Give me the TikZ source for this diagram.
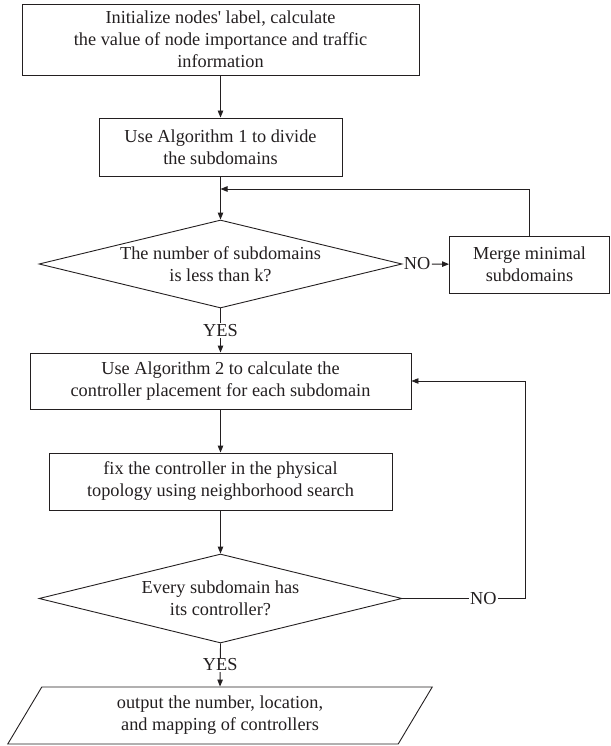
\documentclass[tikz,border=0pt]{standalone}
\usepackage{fontspec}
\setmainfont{Liberation Serif}
\usetikzlibrary{positioning, arrows.meta, shapes.geometric, calc}
\definecolor{ink}{RGB}{35,31,32}

\begin{document}
\begin{tikzpicture}[x=1pt, y=-1pt,
  font=\fontsize{18.3}{22}\selectfont, color=ink, line width=0.9pt,
  procbox/.style={draw, rectangle, align=center, inner sep=0pt},
  testbox/.style={draw, diamond, align=center, inner sep=0pt, shape aspect=4.1,
    minimum width=363pt, minimum height=88pt},
  iobox/.style={draw, trapezium, trapezium left angle=63, trapezium right angle=117,
    trapezium stretches=true, align=center, inner sep=0pt},
  arr/.style={-{Triangle[length=7pt, width=5.5pt]}},
  lbl/.style={fill=white, inner sep=1pt},
]
  \useasboundingbox (0,0) rectangle (610,746);
  \node[procbox, minimum width=397pt, minimum height=71pt] (init) at (220.5,39.5)
    {Initialize nodes\textquotesingle\ label, calculate\\the value of node importance and traffic\\information};
  \node[procbox, minimum width=243pt, minimum height=58pt] (divide) at (220.5,147)
    {Use Algorithm 1 to divide\\the subdomains};
  \node[testbox] (lessk) at (220.5,264)
    {The number of subdomains\\is less than k?};
  \node[procbox, minimum width=160pt, minimum height=57pt] (merge) at (529.5,264.5)
    {Merge minimal\\subdomains};
  \node[procbox, minimum width=381pt, minimum height=56pt] (place) at (220.5,381)
    {Use Algorithm 2 to calculate the\\controller placement for each subdomain};
  \node[procbox, minimum width=343pt, minimum height=57pt] (fix) at (220.5,481.5)
    {fix the controller in the physical\\topology using neighborhood search};
  \node[testbox, minimum height=89pt] (every) at (220.5,598.5)
    {Every subdomain has\\its controller?};
  \node[iobox, minimum width=426pt, minimum height=57pt] (output) at (220,715.5)
    {output the number, location,\\and mapping of controllers};

  \coordinate (join) at (220.5,189);
  \coordinate (back) at (525,598.5);
  \node[inner sep=1pt, anchor=west] (no1) at (lessk.east) {NO};

  \draw[arr] (init) -- (divide);
  \draw[arr] (divide) -- (lessk);
  \draw[arr] (no1) -- (merge);
  \draw[arr] (merge.north) |- (join);
  \draw[arr] (lessk.south) -- node[lbl] {YES} (place.north);
  \draw[arr] (place) -- (fix);
  \draw[arr] (fix) -- (every);
  \draw[arr] (every.east) -- node[lbl, pos=0.66] {NO} (back) |- (place.east);
  \draw[arr] (every.south) -- node[lbl] {YES} (output.north);
\end{tikzpicture}
\end{document}
